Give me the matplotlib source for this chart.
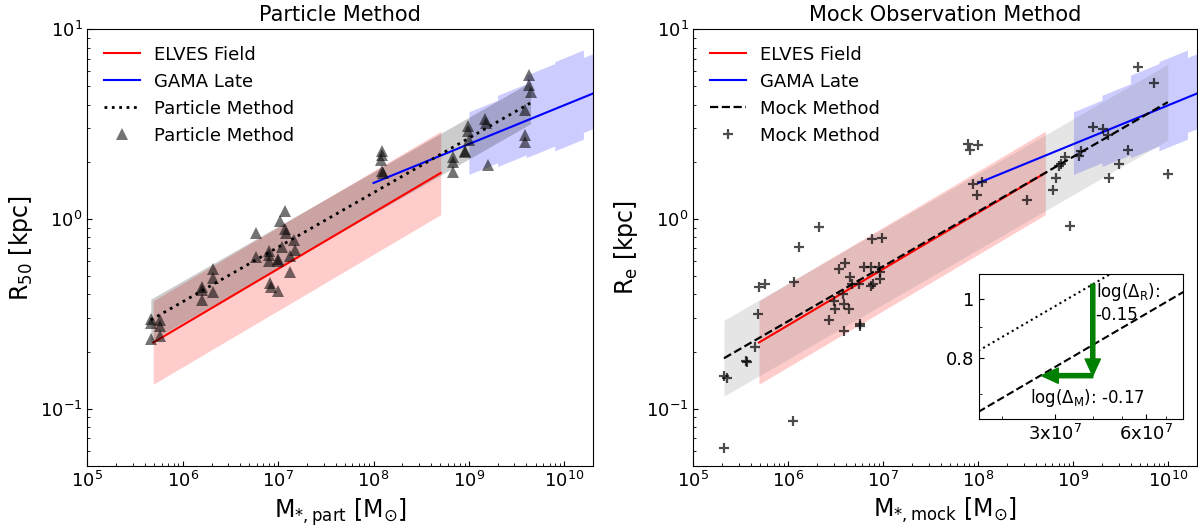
import numpy as np
import matplotlib
matplotlib.use('Agg')
from matplotlib import pyplot as plt
from matplotlib.ticker import FixedLocator, NullFormatter

# sizes from the particle method (log10 M*/Msun, log10 R50/kpc)
part_logm = [5.664, 5.664, 5.763, 5.763, 5.763, 5.664,
             6.312, 6.312, 6.312, 6.197, 6.197, 6.197,
             6.766, 6.766, 6.906, 6.906, 6.906, 6.994, 6.994, 7.036, 7.070, 7.018,
             7.070, 7.077, 7.168, 7.175, 7.123, 7.123, 6.913, 6.920, 7.000,
             8.09, 8.09, 8.08, 8.09, 8.10,
             8.835, 8.835, 8.835, 8.957, 8.957, 8.992, 8.992, 9.002, 9.170, 9.177, 9.201,
             9.593, 9.593, 9.593, 9.631, 9.631, 9.646]
part_logr = [-0.526, -0.549, -0.532, -0.563, -0.616, -0.632,
             -0.265, -0.312, -0.383, -0.356, -0.374, -0.426,
             -0.075, -0.202, -0.167, -0.189, -0.219, -0.212, -0.224, -0.146, 0.044, -0.009,
             -0.054, -0.075, -0.111, -0.163, -0.195, -0.277, -0.339, -0.360, -0.379,
             0.36, 0.335, 0.31, 0.255, 0.245,
             0.328, 0.302, 0.249, 0.358, 0.351, 0.491, 0.463, 0.416, 0.526, 0.504, 0.284,
             0.574, 0.442, 0.407, 0.758, 0.709, 0.667]

# sizes from the mock observations (log10 M*/Msun, log10 Re/kpc)
mock_logm = [5.322, 6.052, 5.322, 5.358, 5.556, 5.562, 5.645, 5.681, 5.694, 5.754,
             6.063, 6.112, 6.320, 6.876, 6.980, 6.599, 6.536, 6.643, 6.797, 6.870,
             6.953, 6.964, 6.964, 6.870, 6.894, 6.748, 6.667, 6.570, 6.484, 6.494,
             6.581, 6.633, 6.432, 6.588, 6.755, 6.755,
             7.889, 7.910, 7.998, 7.942, 8.040, 7.981, 8.515, 8.790, 8.821, 8.846,
             8.867, 8.909, 8.962, 9.061, 9.078, 9.208, 9.307, 9.360, 9.370, 9.483,
             9.571, 9.676, 9.852, 9.993]
mock_logr = [-1.207, -1.063, -0.826, -0.837, -0.746, -0.753, -0.677, -0.500, -0.359, -0.342,
             -0.332, -0.149, -0.042, -0.107, -0.102, -0.233, -0.265, -0.307, -0.254, -0.251,
             -0.254, -0.277, -0.317, -0.353, -0.342, -0.342, -0.342, -0.396, -0.430, -0.475,
             -0.447, -0.475, -0.535, -0.588, -0.554, -0.563,
             0.398, 0.366, 0.391, 0.187, 0.195, 0.129, 0.099, 0.155, 0.215, 0.278,
             0.292, 0.327, -0.035, 0.331, 0.357, 0.484, 0.475, 0.445, 0.215, 0.292,
             0.366, 0.803, 0.715, 0.238]

# relations: (slope, log R at log M = 8)
elves_fit = (0.2966, 0.034)
elves_range = (5.69, 8.704)
elves_scatter = 0.22
gama_fit = (0.205, 0.190)
gama_range = (8.0, 10.5)
gama_bins = [9.0, 9.3, 9.6, 9.9, 10.2, 10.5]
gama_up = [0.17, 0.195, 0.24, 0.25, 0.21]
gama_lo = [0.16, 0.18, 0.195, 0.22, 0.185]
part_fit = (0.2874, 0.139)
part_scatter = 0.11
mock_fit = (0.289, 0.040)
mock_scatter = 0.2

# offsets between the two methods
delta_r = -0.15
delta_m = -0.17
arrow_logm = 7.602


def rel(fit, lm):
    return fit[1] + fit[0] * (lm - 8)


def draw_refs(ax):
    lm = np.linspace(elves_range[0], elves_range[1], 60)
    ax.fill_between(10**lm, 10**(rel(elves_fit, lm) - elves_scatter),
                    10**(rel(elves_fit, lm) + elves_scatter), color='red', alpha=0.2, lw=0)
    ax.plot(10**lm, 10**rel(elves_fit, lm), color='red', lw=1.5, label='ELVES Field')
    for i in range(len(gama_bins) - 1):
        lm = np.linspace(gama_bins[i], gama_bins[i + 1], 20)
        ax.fill_between(10**lm, 10**(rel(gama_fit, lm) - gama_lo[i]),
                        10**(rel(gama_fit, lm) + gama_up[i]), color='blue', alpha=0.2, lw=0)
    lm = np.linspace(gama_range[0], gama_range[1], 60)
    ax.plot(10**lm, 10**rel(gama_fit, lm), color='blue', lw=1.5, label='GAMA Late')


def style(ax):
    ax.set_xscale('log')
    ax.set_yscale('log')
    ax.set_xlim(1e5, 2e10)
    ax.set_ylim(0.05, 10)
    ax.tick_params(which='both', direction='in', labelsize=13)


fig = plt.figure(figsize=(11.98, 5.27), dpi=100)

# particle method
ax1 = fig.add_axes([0.0730, 0.1161, 0.4220, 0.8283])
draw_refs(ax1)
lm = np.linspace(min(part_logm), max(part_logm), 60)
ax1.fill_between(10**lm, 10**(rel(part_fit, lm) - part_scatter),
                 10**(rel(part_fit, lm) + part_scatter), color='k', alpha=0.2, lw=0)
ax1.plot(10**lm, 10**rel(part_fit, lm), 'k:', lw=2, label='Particle Method')
ax1.plot(10**np.array(part_logm), 10**np.array(part_logr), '^', color='k', alpha=0.55,
         ms=8, mew=0, ls='none', label='Particle Method')
style(ax1)
ax1.set_title('Particle Method', fontsize=15)
ax1.set_xlabel(r'M$_{*,\rm part}$ [M$_{\odot}$]', fontsize=17)
ax1.set_ylabel(r'R$_{50}$ [kpc]', fontsize=17)
ax1.legend(loc='upper left', frameon=False, fontsize=13, numpoints=1)

# mock observation method
ax2 = fig.add_axes([0.5788, 0.1161, 0.4204, 0.8283])
draw_refs(ax2)
lm = np.linspace(min(mock_logm), max(mock_logm), 60)
ax2.fill_between(10**lm, 10**(rel(mock_fit, lm) - mock_scatter),
                 10**(rel(mock_fit, lm) + mock_scatter), color='gray', alpha=0.2, lw=0)
ax2.plot(10**lm, 10**rel(mock_fit, lm), 'k--', lw=1.6, label='Mock Method')
ax2.plot(10**np.array(mock_logm), 10**np.array(mock_logr), '+', color='k', alpha=0.7,
         ms=7, mew=1.6, ls='none', label='Mock Method')
style(ax2)
ax2.set_title('Mock Observation Method', fontsize=15)
ax2.set_xlabel(r'M$_{*,\rm mock}$ [M$_{\odot}$]', fontsize=17)
ax2.set_ylabel(r'R$_{\rm e}$ [kpc]', fontsize=17)
ax2.legend(loc='upper left', frameon=False, fontsize=13, numpoints=1)

# zoom on the offset between the two fits
axin = fig.add_axes([0.8175, 0.2049, 0.1703, 0.2751])
lm = np.linspace(7.0, 8.2, 40)
axin.plot(10**lm, 10**rel(part_fit, lm), 'k:', lw=1.5)
axin.plot(10**lm, 10**rel(mock_fit, lm), 'k--', lw=1.5)
axin.set_xscale('log')
axin.set_yscale('log')
axin.set_xlim(1.68e7, 8e7)
axin.set_ylim(0.636, 1.1)
axin.xaxis.set_major_locator(FixedLocator([3e7, 6e7]))
axin.xaxis.set_minor_locator(FixedLocator([2e7, 4e7, 5e7, 7e7]))
axin.xaxis.set_minor_formatter(NullFormatter())
axin.set_xticklabels([r'3x10$^7$', r'6x10$^7$'])
axin.yaxis.set_major_locator(FixedLocator([0.8, 1.0]))
axin.yaxis.set_minor_locator(FixedLocator([0.7, 0.9]))
axin.yaxis.set_minor_formatter(NullFormatter())
axin.set_yticklabels(['0.8', '1'])
axin.tick_params(which='both', direction='in', labelsize=13)

x0 = 10**arrow_logm
y0 = 10**rel(part_fit, arrow_logm)
y1 = y0 * 10**delta_r
x1 = x0 * 10**delta_m
arrow = dict(color='green', width=3, headwidth=11, headlength=12, shrink=0)
axin.annotate('', xy=(x0, y1), xytext=(x0, y0), arrowprops=arrow)
axin.annotate('', xy=(x1, y1), xytext=(x0, y1), arrowprops=arrow)
axin.text(0.57, 0.95, 'log($\\Delta_{\\rm R}$):\n%.2f' % delta_r, transform=axin.transAxes,
          ha='left', va='top', fontsize=12)
axin.text(0.25, 0.147, 'log($\\Delta_{\\rm M}$): %.2f' % delta_m, transform=axin.transAxes,
          ha='left', va='center', fontsize=12)

plt.savefig('out.png', dpi=100)
